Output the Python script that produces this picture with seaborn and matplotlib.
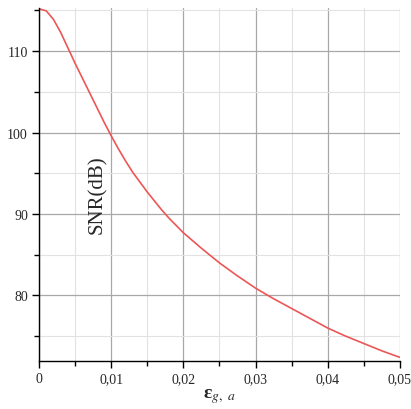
import numpy as np
import pandas as pd
import seaborn as sns
import matplotlib.pyplot as plt
from matplotlib.ticker import MultipleLocator, FuncFormatter

# values
eps = [0.000, 0.001, 0.002, 0.003, 0.004, 0.005, 0.006, 0.007, 0.008, 0.009,
       0.010, 0.011, 0.012, 0.013, 0.014, 0.015, 0.016, 0.017, 0.018, 0.019,
       0.020, 0.0225, 0.025, 0.0275, 0.030, 0.0325, 0.035, 0.0375, 0.040,
       0.0425, 0.045, 0.0475, 0.050]
snr = [115.2, 114.95, 113.9, 112.3, 110.4, 108.5, 106.7, 104.9, 103.1, 101.3,
       99.6, 98.0, 96.5, 95.1, 93.9, 92.7, 91.6, 90.5, 89.5, 88.6,
       87.7, 85.8, 84.0, 82.4, 80.9, 79.6, 78.4, 77.2, 76.0,
       75.0, 74.1, 73.2, 72.4]

x_ticks = [0, 0.01, 0.02, 0.03, 0.04, 0.05]
y_ticks = [80, 90, 100, 110]

df = pd.DataFrame({'eps': eps, 'snr': snr})

sns.set_style('white')
plt.rcParams['font.family'] = ['Liberation Serif', 'DejaVu Serif']
plt.rcParams['mathtext.fontset'] = 'stix'

fig = plt.figure(figsize=(4.11, 4.10), dpi=100)
ax = fig.add_axes([0.095, 0.117, 0.878, 0.861])

sns.lineplot(data=df, x='eps', y='snr', ax=ax, color='#ec5656', linewidth=1.2)

ax.set_xlim(0, 0.05)
ax.set_ylim(71.95, 115.3)
ax.set_xticks(x_ticks)
ax.set_yticks(y_ticks)
ax.xaxis.set_minor_locator(MultipleLocator(0.005))
ax.yaxis.set_minor_locator(MultipleLocator(5))
ax.xaxis.set_major_formatter(FuncFormatter(lambda v, p: ('%g' % round(v, 3)).replace('.', ',')))

ax.grid(which='major', color='#a8a8a8', linewidth=0.9)
ax.grid(which='minor', color='#e2e2e2', linewidth=0.8)
ax.set_axisbelow(True)

for s in ['top', 'right']:
    ax.spines[s].set_visible(False)
for s in ['left', 'bottom']:
    ax.spines[s].set_color('black')
    ax.spines[s].set_linewidth(1.0)

ax.tick_params(which='major', direction='out', length=5, width=1, color='black',
               labelsize=10, pad=3)
ax.tick_params(which='minor', direction='out', length=3.5, width=1, color='black')
ax.tick_params(axis='x', which='both', bottom=True)
ax.tick_params(axis='y', which='both', left=True)

ax.set_xlabel(r'ε$_{g,\ a}$', fontsize=14, fontweight='bold', labelpad=1)
ax.set_ylabel('')
ax.text(0.161, 0.473, 'SNR(dB)', transform=ax.transAxes, rotation=90,
        fontsize=15, ha='center', va='center')

fig.savefig('out.png', dpi=100)
